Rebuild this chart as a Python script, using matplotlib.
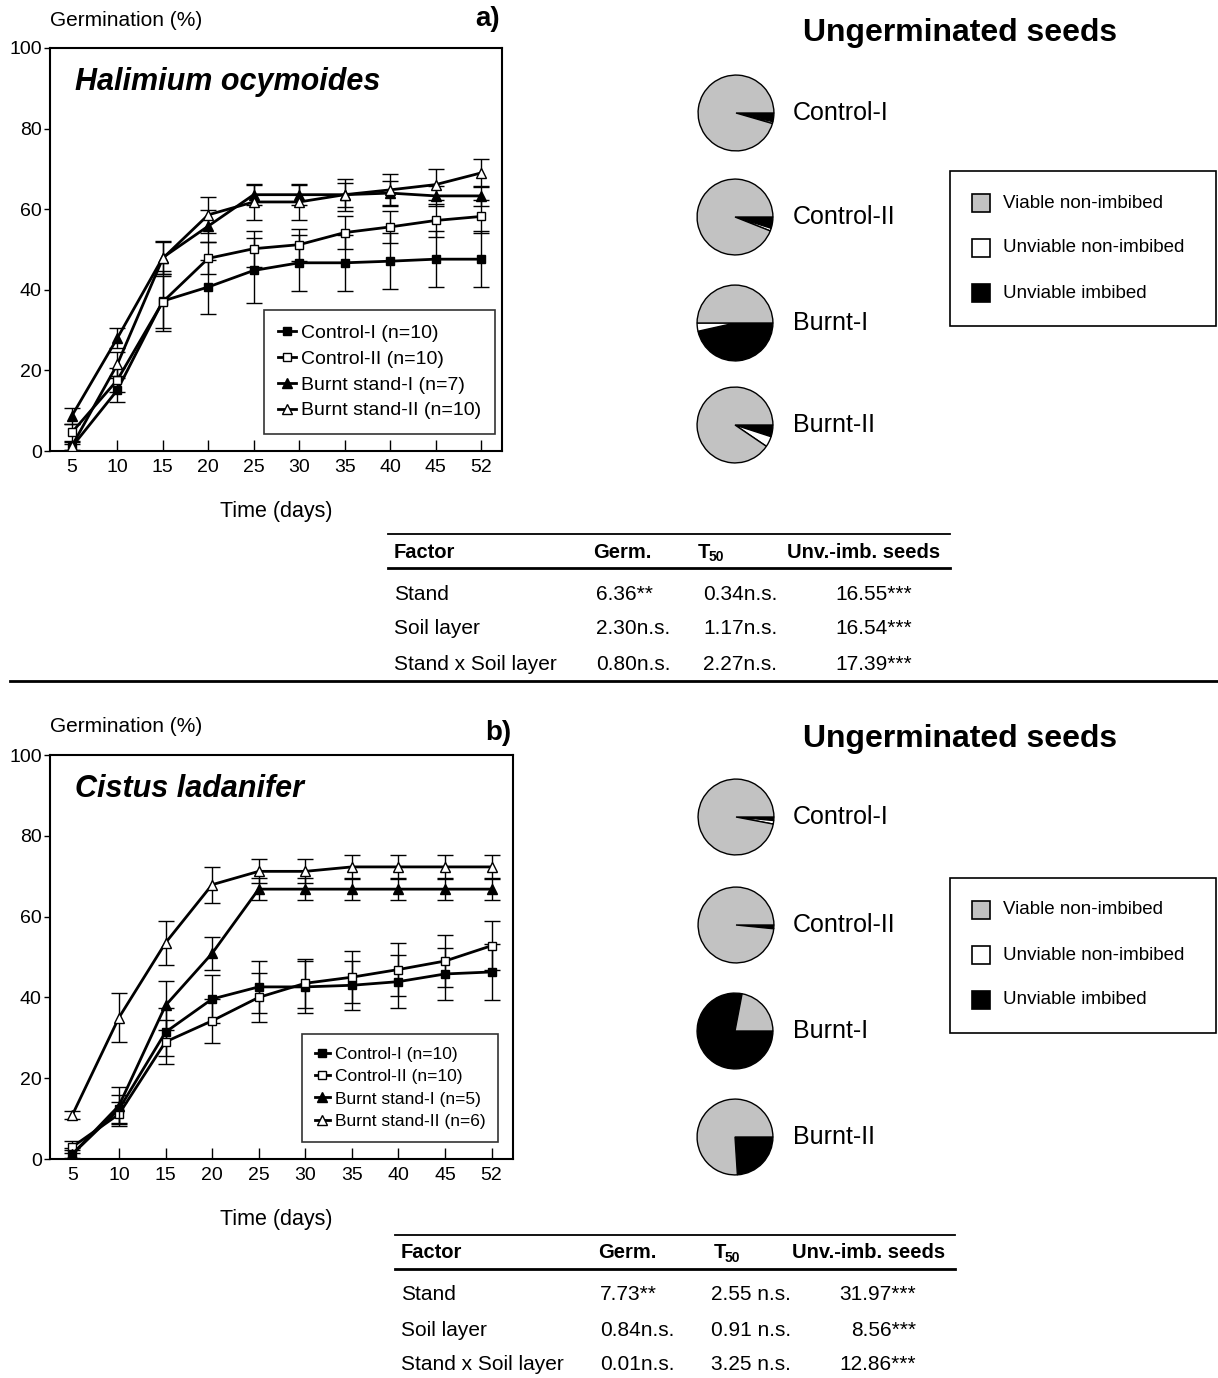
import numpy as np
import matplotlib
matplotlib.use("Agg")
import matplotlib.pyplot as plt
from matplotlib.patches import Rectangle

plt.rcParams['font.family'] = ['Liberation Sans', 'DejaVu Sans']

W, H = 1218, 1378

# ---- data ----
days = ["5", "10", "15", "20", "25", "30", "35", "40", "45", "52"]
series_names = ["Control-I", "Control-II", "Burnt stand-I", "Burnt stand-II"]

# panel a: Halimium ocymoides
a_n = [10, 10, 7, 10]
a_ctrl1 = [1.0, 15.1, 37.2, 40.7, 44.8, 46.7, 46.7, 47.1, 47.6, 47.6]
a_ctrl1_err = [0.8, 3.0, 7.5, 6.8, 8.0, 7.0, 7.0, 7.0, 7.0, 7.0]
a_ctrl2 = [4.6, 17.6, 37.0, 47.8, 50.2, 51.2, 54.2, 55.6, 57.2, 58.2]
a_ctrl2_err = [2.0, 3.0, 6.5, 4.0, 4.5, 4.0, 4.0, 4.0, 4.0, 4.0]
a_burn1 = [8.7, 28.0, 48.0, 55.8, 63.6, 63.6, 63.6, 64.0, 63.3, 63.3]
a_burn1_err = [2.0, 2.5, 4.0, 4.0, 2.5, 2.5, 3.0, 3.0, 2.5, 2.5]
a_burn2 = [1.2, 21.5, 47.8, 58.6, 61.8, 61.8, 63.6, 64.8, 66.1, 69.0]
a_burn2_err = [1.0, 3.0, 4.0, 4.5, 4.5, 4.5, 4.0, 4.0, 3.8, 3.5]

# panel b: Cistus ladanifer
b_n = [10, 10, 5, 6]
b_ctrl1 = [1.2, 12.3, 31.4, 39.6, 42.6, 42.6, 43.0, 43.9, 45.8, 46.3]
b_ctrl1_err = [1.5, 3.5, 6.0, 6.0, 6.5, 6.4, 6.0, 6.5, 6.5, 7.0]
b_ctrl2 = [3.0, 11.1, 29.0, 34.2, 40.0, 43.5, 45.0, 46.9, 49.0, 52.8]
b_ctrl2_err = [1.5, 3.0, 5.5, 5.5, 6.0, 6.0, 6.5, 6.5, 6.5, 6.0]
b_burn1 = [1.2, 13.2, 38.0, 50.9, 66.8, 66.8, 66.8, 66.8, 66.8, 66.8]
b_burn1_err = [1.0, 4.5, 6.0, 4.0, 2.7, 2.7, 2.7, 2.7, 2.7, 2.7]
b_burn2 = [10.9, 35.0, 53.5, 67.9, 71.2, 71.2, 72.3, 72.3, 72.3, 72.3]
b_burn2_err = [1.0, 6.0, 5.5, 4.5, 3.0, 3.0, 3.0, 3.0, 3.0, 3.0]

# ungerminated seeds (%): viable non-imbibed, unviable non-imbibed, unviable imbibed
seed_classes = ["Viable non-imbibed", "Unviable non-imbibed", "Unviable imbibed"]
pie_names = ["Control-I", "Control-II", "Burnt-I", "Burnt-II"]
a_pies = [[95.5, 0.8, 3.7], [94.0, 1.2, 4.8], [50.0, 3.5, 46.5], [90.5, 4.5, 5.0]]
b_pies = [[97.0, 1.5, 1.5], [98.4, 0.1, 1.5], [22.0, 0.0, 78.0], [76.0, 0.0, 24.0]]

# two-way ANOVA table
factors = ["Stand", "Soil layer", "Stand x Soil layer"]
a_germ = ["6.36**", "2.30n.s.", "0.80n.s."]
a_t50 = ["0.34n.s.", "1.17n.s.", "2.27n.s."]
a_unv = ["16.55***", "16.54***", "17.39***"]
b_germ = ["7.73**", "0.84n.s.", "0.01n.s."]
b_t50 = ["2.55 n.s.", "0.91 n.s.", "3.25 n.s."]
b_unv = ["31.97***", "8.56***", "12.86***"]

GRAY = "#c2c2c2"
markers = [("s", "black", 5.5), ("s", "white", 5.5), ("^", "black", 7.5), ("^", "white", 7.5)]

fig = plt.figure(figsize=(W / 100, H / 100), dpi=100)

# overlay in pixel coordinates for texts, rules and boxes
ov = fig.add_axes([0, 0, 1, 1], zorder=-1)
ov.set_xlim(0, W)
ov.set_ylim(H, 0)
ov.axis("off")


def px_axes(x0, y0, x1, y1, **kw):
    return fig.add_axes([x0 / W, 1 - y1 / H, (x1 - x0) / W, (y1 - y0) / H], **kw)


def line_panel(box, series, errs, ns, species, leg_anchor, leg_fs):
    ax = px_axes(*box)
    x = np.arange(len(days))
    for i, (y, e) in enumerate(zip(series, errs)):
        m, fc, ms = markers[i]
        ax.errorbar(x, y, yerr=e, color="black", lw=2.0, elinewidth=1.0,
                    capsize=6, capthick=1.0, marker=m, mfc=fc, mec="black",
                    ms=ms, mew=1.0, label=f"{series_names[i]} (n={ns[i]})",
                    zorder=3 + i)
    ax.set_xlim(-0.48, len(days) - 0.54)
    ax.set_ylim(0, 100)
    ax.set_xticks(x)
    ax.set_xticklabels(days)
    ax.set_yticks([0, 20, 40, 60, 80, 100])
    ax.tick_params(axis="x", direction="in", length=8, width=1, labelsize=14, pad=6)
    ax.tick_params(axis="y", direction="out", length=4, width=1, labelsize=14, pad=2)
    for s in ax.spines.values():
        s.set_linewidth(1.5)
    ax.text(0.055, 0.915, species, transform=ax.transAxes, fontsize=22,
            fontweight="bold", fontstyle="italic", va="center")
    handles, labels = ax.get_legend_handles_labels()
    handles = [h[0] for h in handles]
    leg = ax.legend(handles, labels, loc="lower right", bbox_to_anchor=leg_anchor,
                    borderaxespad=0, fontsize=leg_fs, handlelength=0.9,
                    handletextpad=0.25, labelspacing=0.42, borderpad=0.75,
                    fancybox=False, frameon=True)
    leg.get_frame().set_edgecolor("black")
    leg.get_frame().set_linewidth(1.2)
    return ax


def pie_panel(centers, fracs, label_x):
    r = 38
    for (cx, cy), f, name in zip(centers, fracs, pie_names):
        pax = px_axes(cx - r - 2, cy - r - 2, cx + r + 2, cy + r + 2)
        vals = [f[2], f[1], f[0]]
        cols = ["black", "white", GRAY]
        pax.pie(vals, colors=cols, startangle=0, counterclock=False, radius=1.0,
                wedgeprops=dict(edgecolor="black", linewidth=1.0))
        pax.set_xlim(-1.055, 1.055)
        pax.set_ylim(-1.055, 1.055)
        pax.axis("off")
        ov.text(label_x, cy, name, fontsize=18, va="center", ha="left")


def pie_legend(y0):
    ov.add_patch(Rectangle((950, y0), 266, 155, fill=False, ec="black", lw=1.2))
    cols = [GRAY, "white", "black"]
    for k, (lab, c) in enumerate(zip(seed_classes, cols)):
        yy = y0 + 32 + 45 * k
        ov.add_patch(Rectangle((972, yy - 9), 18, 18, fc=c, ec="black", lw=1.2))
        ov.text(1003, yy, lab, fontsize=13.5, va="center", ha="left")


def anova_table(x0, x1, ytop, cols_x, germ, t50, unv, val_x):
    ov.plot([x0, x1], [ytop, ytop], color="black", lw=1.3)
    yh = ytop + 18
    ov.plot([x0, x1], [ytop + 34, ytop + 34], color="black", lw=2.0)
    ov.text(cols_x[0], yh, "Factor", fontsize=14.5, fontweight="bold", va="center")
    ov.text(cols_x[1], yh, "Germ.", fontsize=14.5, fontweight="bold", va="center")
    ov.text(cols_x[2], yh, "T", fontsize=14.5, fontweight="bold", va="center")
    ov.text(cols_x[2] + 11, yh + 5, "50", fontsize=10, fontweight="bold", va="center")
    ov.text(cols_x[3], yh, "Unv.-imb. seeds", fontsize=14.5, fontweight="bold", va="center")
    for k, fac in enumerate(factors):
        yy = ytop + 60 + 35 * k
        ov.text(cols_x[0], yy, fac, fontsize=15, va="center")
        ov.text(val_x[0], yy, germ[k], fontsize=15, va="center")
        ov.text(val_x[1], yy, t50[k], fontsize=15, va="center")
        ov.text(val_x[2], yy, unv[k], fontsize=15, va="center", ha="right")


# ---- panel a ----
line_panel((50, 48, 502, 451), [a_ctrl1, a_ctrl2, a_burn1, a_burn2],
           [a_ctrl1_err, a_ctrl2_err, a_burn1_err, a_burn2_err], a_n,
           "Halimium ocymoides", (0.985, 0.042), 14)
ov.text(50, 21, "Germination (%)", fontsize=15, va="center")
ov.text(500, 19, "a)", fontsize=20, fontweight="bold", va="center", ha="right")
ov.text(276, 512, "Time (days)", fontsize=15.5, va="center", ha="center")
ov.text(960, 33, "Ungerminated seeds", fontsize=23, fontweight="bold",
        va="center", ha="center")
pie_panel([(736, 113), (735, 217), (735, 323), (735, 425)], a_pies, 793)
pie_legend(171)
anova_table(388, 950, 534, [394, 593, 698, 787], a_germ, a_t50, a_unv,
            [596, 703, 912])

ov.plot([10, W], [681, 681], color="black", lw=2.0)

# ---- panel b ----
line_panel((50, 755, 513, 1159), [b_ctrl1, b_ctrl2, b_burn1, b_burn2],
           [b_ctrl1_err, b_ctrl2_err, b_burn1_err, b_burn2_err], b_n,
           "Cistus ladanifer", (0.968, 0.042), 12.5)
ov.text(50, 727, "Germination (%)", fontsize=15, va="center")
ov.text(511, 733, "b)", fontsize=20, fontweight="bold", va="center", ha="right")
ov.text(276, 1219, "Time (days)", fontsize=15.5, va="center", ha="center")
ov.text(960, 739, "Ungerminated seeds", fontsize=23, fontweight="bold",
        va="center", ha="center")
pie_panel([(736, 817), (736, 925), (735, 1031), (735, 1137)], b_pies, 793)
pie_legend(878)
anova_table(395, 955, 1235, [401, 598, 714, 792], b_germ, b_t50, b_unv,
            [600, 711, 916])

fig.savefig("out.png", dpi=100)
